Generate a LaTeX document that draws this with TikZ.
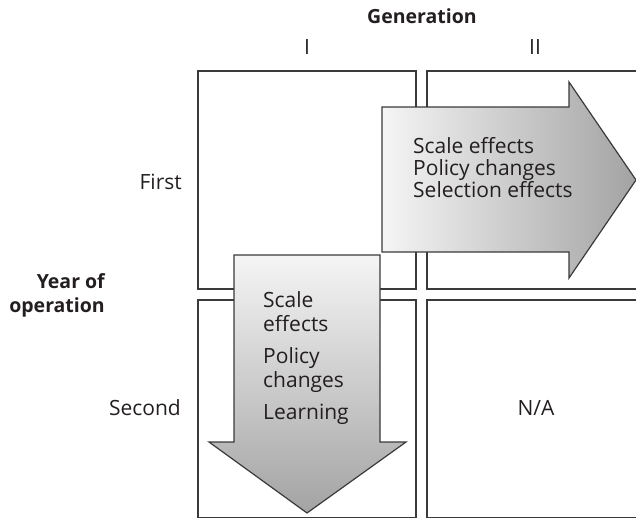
\documentclass[tikz,border=0pt]{standalone}
\usepackage{fontspec}
\setmainfont{Open Sans}
\definecolor{linegray}{HTML}{3A3A3A}
\definecolor{textgray}{HTML}{231F20}
\tikzset{%
    cell/.style={rectangle, draw=linegray, line width=1.2pt,
        minimum size=218pt, inner sep=0pt},
    lbl/.style={font=\fontsize{21}{24}\selectfont, text=textgray,
        inner sep=0pt},
    hdr/.style={lbl, font=\fontsize{19.5}{24}\selectfont\bfseries},
    blockarrow/.style={draw=linegray, line width=1.2pt}
}

\begin{document}
\begin{tikzpicture}[x=1pt, y=-1pt]
  \clip (0,0) rectangle (636,517);

  % grid of cells
  \node (c11) [cell] at (307,180) {};
  \node (c12) [cell] at (536,180) {};
  \node (c21) [cell] at (307,409) {};
  \node (c22) [cell] at (536,409) {};

  % headers
  \node (gen) [hdr] at (422,16) {Generation};
  \node (colI) [lbl] at (c11.north |- 0,47) {I};
  \node (colII) [lbl] at (535,47) {II};
  \node (first) [lbl, anchor=east] at (182,182) {First};
  \node (second) [lbl, anchor=east] at (181,408) {Second};
  \node (yearop) [hdr, anchor=east, align=right] at (105,295)
    {Year of\\operation};

  % arrows
  \shadedraw[blockarrow, left color=gray!8, right color=gray!72]
    (382,107) -- (569,107) -- (569,82) -- (636,180) -- (569,278)
    -- (569,252) -- (382,252) -- cycle;
  \shadedraw[blockarrow, top color=gray!8, bottom color=gray!72]
    (234,255) -- (380,255) -- (380,442) -- (406,442) -- (307,513)
    -- (209,442) -- (234,442) -- cycle;

  \node (rtxt) [lbl, anchor=west, align=left, font=\fontsize{21}{22}\selectfont]
    at (413,168) {Scale effects\\Policy changes\\Selection effects};
  \node (dtxt) [lbl, anchor=west, align=left] at (263,358)
    {Scale\\effects\\[8pt]Policy\\changes\\[8pt]Learning};

  \node (na) [lbl] at (c22.center |- 0,408) {N/A};
\end{tikzpicture}
\end{document}
